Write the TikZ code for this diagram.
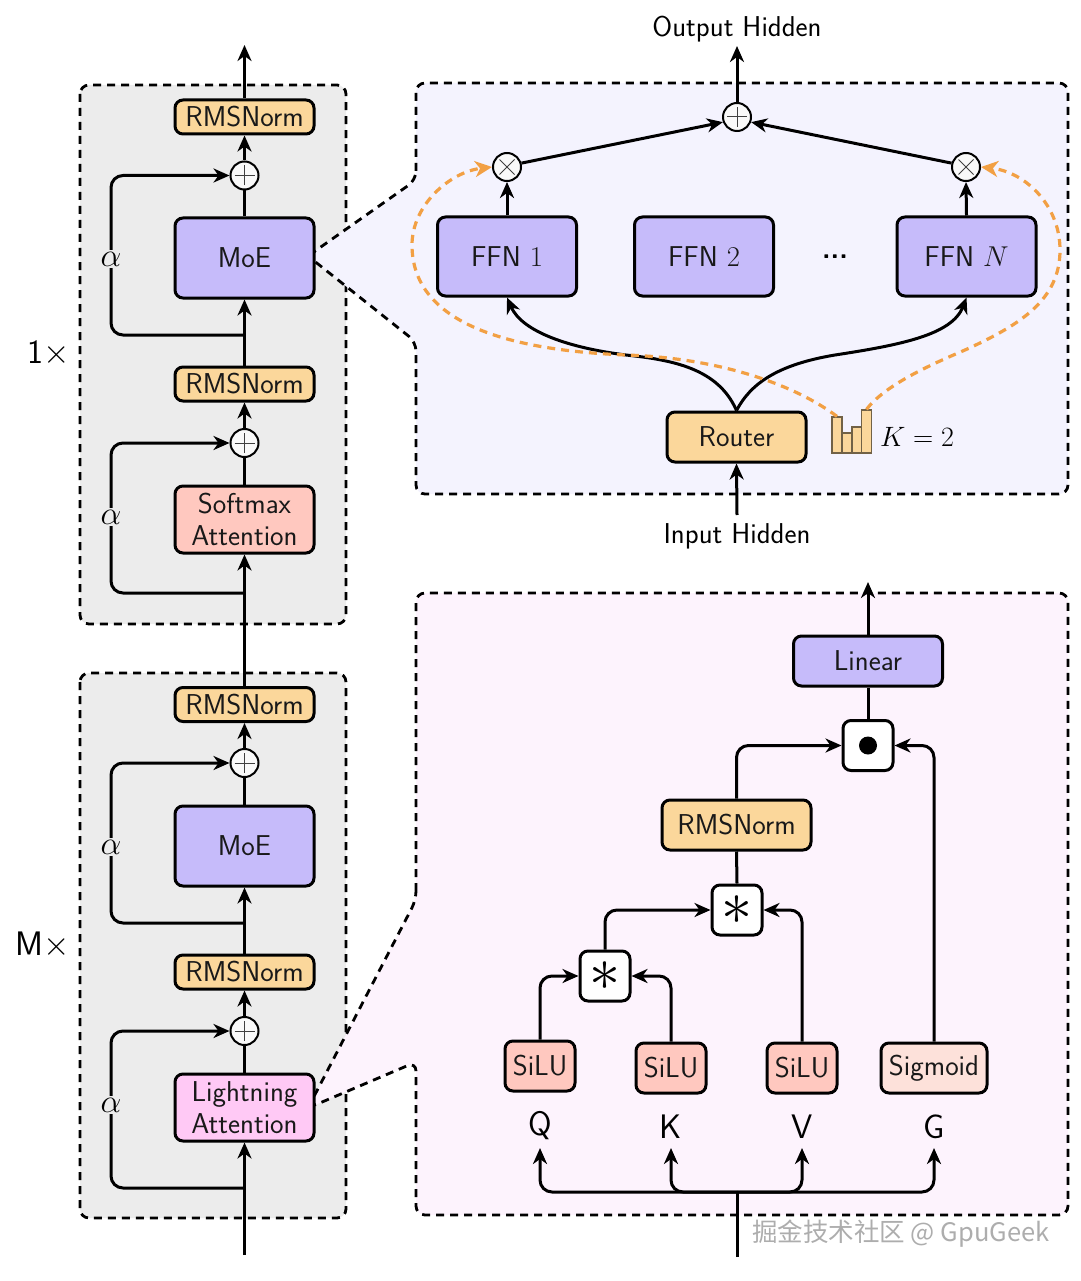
\RequirePackage{fix-cm}
\documentclass[tikz,border=0pt]{standalone}
\usepackage{fontspec}
\newfontfamily\cjk{Noto Sans CJK SC}
\usetikzlibrary{arrows.meta,positioning,calc}
\definecolor{cpurple}{HTML}{C6BBFA}
\definecolor{corange}{HTML}{FBD79B}
\definecolor{cred}{HTML}{FFC8BF}
\definecolor{cpink}{HTML}{FFC9F5}
\definecolor{csig}{HTML}{FDE1DA}
\definecolor{cgrayb}{HTML}{ECECEC}
\definecolor{cpanela}{HTML}{F4F3FE}
\definecolor{cpanelb}{HTML}{FDF3FD}
\definecolor{cdash}{HTML}{F2A044}
\tikzset{
  every node/.style={font=\sffamily\fontsize{28.7}{32}\selectfont},
  boxn/.style={draw=black,line width=3pt,rounded corners=8pt,inner sep=0pt,align=center,text=black!90},
  rms/.style={boxn,fill=corange,minimum width=139pt,minimum height=34pt},
  moe/.style={boxn,fill=cpurple,minimum width=139pt,minimum height=80pt},
  att/.style={boxn,minimum width=139pt,minimum height=67pt},
  ffn/.style={boxn,fill=cpurple,minimum width=139pt,minimum height=79pt},
  wbox/.style={boxn,fill=corange,minimum width=149pt,minimum height=50pt},
  opbox/.style={boxn,fill=white,minimum width=50pt,minimum height=50pt},
  silu/.style={boxn,fill=cred,minimum width=70pt,minimum height=50pt},
  roundop/.style={circle,draw=black,line width=2pt,fill=white!95!gray,minimum size=28pt,inner sep=0pt},
  plusop/.style={roundop,path picture={
     \draw[line width=1pt,black!75] ($(path picture bounding box.center)+(-10pt,0pt)$)--($(path picture bounding box.center)+(10pt,0pt)$);
     \draw[line width=1pt,black!75] ($(path picture bounding box.center)+(0pt,-10pt)$)--($(path picture bounding box.center)+(0pt,10pt)$);}},
  timesop/.style={roundop,path picture={
     \draw[line width=1pt,black!75] ($(path picture bounding box.center)+(-7.5pt,-7.5pt)$)--($(path picture bounding box.center)+(7.5pt,7.5pt)$);
     \draw[line width=1pt,black!75] ($(path picture bounding box.center)+(-7.5pt,7.5pt)$)--($(path picture bounding box.center)+(7.5pt,-7.5pt)$);}},
  conn/.style={line width=3pt,draw=black,-{Stealth[length=16pt,width=14pt,inset=5pt]}},
  wire/.style={line width=3pt,draw=black},
  loopc/.style={conn,rounded corners=12pt},
  blockbg/.style={fill=cgrayb,draw=black,line width=2.8pt,dash pattern=on 8pt off 6pt,rounded corners=9pt},
  panel/.style={draw=black,line width=2.8pt,dash pattern=on 8pt off 6pt,rounded corners=9pt},
  odash/.style={draw=cdash,line width=3.2pt,dash pattern=on 8pt off 6pt,-{Stealth[length=17pt,width=16pt,inset=5pt]}},
  bar/.style={draw=black!55!corange,line width=1.2pt,fill=corange},
  alphan/.style={fill=cgrayb,inner sep=2pt,font=\fontsize{33}{36}\selectfont},
  letter/.style={font=\sffamily\fontsize{34}{38}\selectfont},
}
\begin{document}
\begin{tikzpicture}[x=1pt,y=-1pt]
\useasboundingbox (0,0) rectangle (1080,1281);
% backgrounds
\path[blockbg] (80,85) rectangle (346,624);
\path[blockbg] (80,673) rectangle (346,1218);
\path[panel,fill=cpanela] (416,180) -- (416,83) -- (1068,83) -- (1068,494) -- (416,494) -- (416,342) -- (308,256) -- cycle;
\path[panel,fill=cpanelb] (416,900) -- (416,593) -- (1068,593) -- (1068,1215) -- (416,1215) -- (416,1062) -- (308,1108) -- cycle;
% left column, upper block
\node[rms] (r1) at (244.5,117) {RMSNorm};
\node[plusop] (p1) at (244.5,175.5) {};
\node[moe] (m1) at (244.5,258) {MoE};
\node[rms] (r2) at (244.5,384) {RMSNorm};
\node[plusop] (p2) at (244.5,443) {};
\node[att,fill=cred] (s1) at (244.5,519.5) {Softmax\\Attention};
% left column, lower block
\node[rms] (r3) at (244.5,704.5) {RMSNorm};
\node[plusop] (p3) at (244.5,763) {};
\node[moe] (m2) at (244.5,846) {MoE};
\node[rms] (r4) at (244.5,972) {RMSNorm};
\node[plusop] (p4) at (244.5,1031) {};
\node[att,fill=cpink] (l1) at (244.5,1107.5) {Lightning\\Attention};
\coordinate (topend) at (244.5,45);
\coordinate (botend) at (244.5,1255);
\coordinate (t1) at (244.5,335);
\coordinate (t2) at (244.5,593);
\coordinate (t3) at (244.5,923);
\coordinate (t4) at (244.5,1188);
\draw[conn] (botend) -- (l1.south);
\draw[wire] (l1.north) -- (p4.south);
\draw[conn] (p4.north) -- (r4.south);
\draw[conn] (r4.north) -- (m2.south);
\draw[wire] (m2.north) -- (p3.south);
\draw[conn] (p3.north) -- (r3.south);
\draw[conn] (r3.north) -- (s1.south);
\draw[wire] (s1.north) -- (p2.south);
\draw[conn] (p2.north) -- (r2.south);
\draw[conn] (r2.north) -- (m1.south);
\draw[wire] (m1.north) -- (p1.south);
\draw[conn] (p1.north) -- (r1.south);
\draw[conn] (r1.north) -- (topend);
\draw[loopc] (t1) -| (111,259) |- (p1.west);
\draw[loopc] (t2) -| (111,517) |- (p2.west);
\draw[loopc] (t3) -| (111,847) |- (p3.west);
\draw[loopc] (t4) -| (111,1105) |- (p4.west);
\node[alphan] (a1) at (111,259) {$\alpha$};
\node[alphan] (a2) at (111,517) {$\alpha$};
\node[alphan] (a3) at (111,847) {$\alpha$};
\node[alphan] (a4) at (111,1105) {$\alpha$};
\node[font=\sffamily\fontsize{34}{38}\selectfont] (n1) at (49,353) {1$\times$};
\node[font=\sffamily\fontsize{34}{38}\selectfont] (nm) at (43,945) {M$\times$};
% upper panel
\node[ffn] (f1) at (507,256.5) {FFN $1$};
\node[ffn] (f2) at (704,256.5) {FFN $2$};
\node[ffn] (fn) at (966.5,256.5) {FFN $N$};
\node[font=\sffamily\bfseries\fontsize{28}{28}\selectfont,inner sep=0pt] (dots) at (835,257) {{.}{.}{.}};
\node[timesop] (o1) at (507,167) {};
\node[timesop] (on) at (966,167) {};
\node[plusop] (ps) at (737,117) {};
\node[boxn,fill=corange,minimum width=139pt,minimum height=50pt] (router) at (736.5,437) {Router};
\node (outl) at (737,29) {Output Hidden};
\node (inl) at (737,536) {Input Hidden};
\coordinate (outend) at (737,46);
\coordinate (inend) at (737,515);
\draw[conn] (ps.north) -- (outend);
\draw[conn] (inend) -- (router.south);
\draw[conn] (o1.15) -- (ps.200);
\draw[conn] (on.165) -- (ps.340);
\draw[conn] (f1.north) -- (o1.south);
\draw[conn] (fn.north) -- (on.south);
\draw[conn] (router.north) .. controls (718,368) and (672,360) .. (626,355) .. controls (570,348) and (522,332) .. (f1.south);
\draw[conn] (router.north) .. controls (750,385) and (775,365) .. (835,355) .. controls (900,345) and (952,335) .. (fn.south);
% bars
\node[bar,minimum width=10pt,minimum height=36pt,inner sep=0pt] (b1) at (837,435) {};
\node[bar,minimum width=10pt,minimum height=20pt,inner sep=0pt] (b2) at (847,443) {};
\node[bar,minimum width=10pt,minimum height=26pt,inner sep=0pt] (b3) at (857,440) {};
\node[bar,minimum width=10pt,minimum height=43pt,inner sep=0pt] (b4) at (866.5,431.5) {};
\node[font=\fontsize{28}{32}\selectfont] (kl) at (917,437) {$K=2$};
\draw[odash] (b1.north) .. controls (795,385) and (720,358) .. (626,355) .. controls (500,350) and (412,320) .. (412,245) .. controls (412,205) and (450,172) .. (o1.west);
\draw[odash] (b4.north) .. controls (885,385) and (930,365) .. (965,350) .. controls (1020,325) and (1060,300) .. (1060,250) .. controls (1060,205) and (1025,172) .. (on.east);
% lower panel
\node[boxn,fill=cpurple,minimum width=149pt,minimum height=50pt] (lin) at (868,661) {Linear};
\node[opbox] (dotb) at (868,745.5) {};
\node[circle,fill=black,minimum size=18pt,inner sep=0pt] (dotc) at (dotb.center) {};
\node[wbox] (rms) at (736.5,825) {RMSNorm};
\node[opbox] (st1) at (737,910) {};
\node[opbox] (st2) at (605,976) {};
\node[font=\fontsize{62}{62}\selectfont,inner sep=0pt] (a1s) at (737,910) {$\ast$};
\node[font=\fontsize{62}{62}\selectfont,inner sep=0pt] (a2s) at (605,976) {$\ast$};
\node[silu] (si1) at (540,1066) {SiLU};
\node[silu] (si2) at (671,1068) {SiLU};
\node[silu] (si3) at (802,1068) {SiLU};
\node[silu,fill=csig,minimum width=106pt] (sig) at (934,1068) {Sigmoid};
\node[letter] (q) at (540,1126) {Q};
\node[letter] (k) at (671,1127) {K};
\node[letter] (v) at (802,1127) {V};
\node[letter] (g) at (934,1127) {G};
\coordinate (lintop) at (868,582);
\coordinate (busin) at (737,1257);
\coordinate (bus) at (737,1192);
\coordinate (qa) at (540,1148);
\coordinate (ka) at (671,1148);
\coordinate (va) at (802,1148);
\coordinate (ga) at (934,1148);
\draw[conn] (lin.north) -- (lintop);
\draw[wire] (dotb.north) -- (lin.south);
\draw[loopc] (rms.north) |- (dotb.west);
\draw[loopc] (sig.north) |- (dotb.east);
\draw[wire] (st1.north) -- (rms.south);
\draw[loopc] (st2.north) |- (st1.west);
\draw[loopc] (si3.north) |- (st1.east);
\draw[loopc] (si1.north) |- (st2.west);
\draw[loopc] (si2.north) |- (st2.east);
\draw[wire] (busin) -- (bus);
\draw[loopc] (bus) -| (qa);
\draw[loopc] (bus) -| (ka);
\draw[loopc] (bus) -| (va);
\draw[loopc] (bus) -| (ga);
% watermark
\node[text=black!32,font=\fontsize{25.5}{28}\selectfont,anchor=west,inner sep=0pt] (wm) at (752,1234) {\cjk 掘金技术社区 @ GpuGeek};
\end{tikzpicture}
\end{document}
